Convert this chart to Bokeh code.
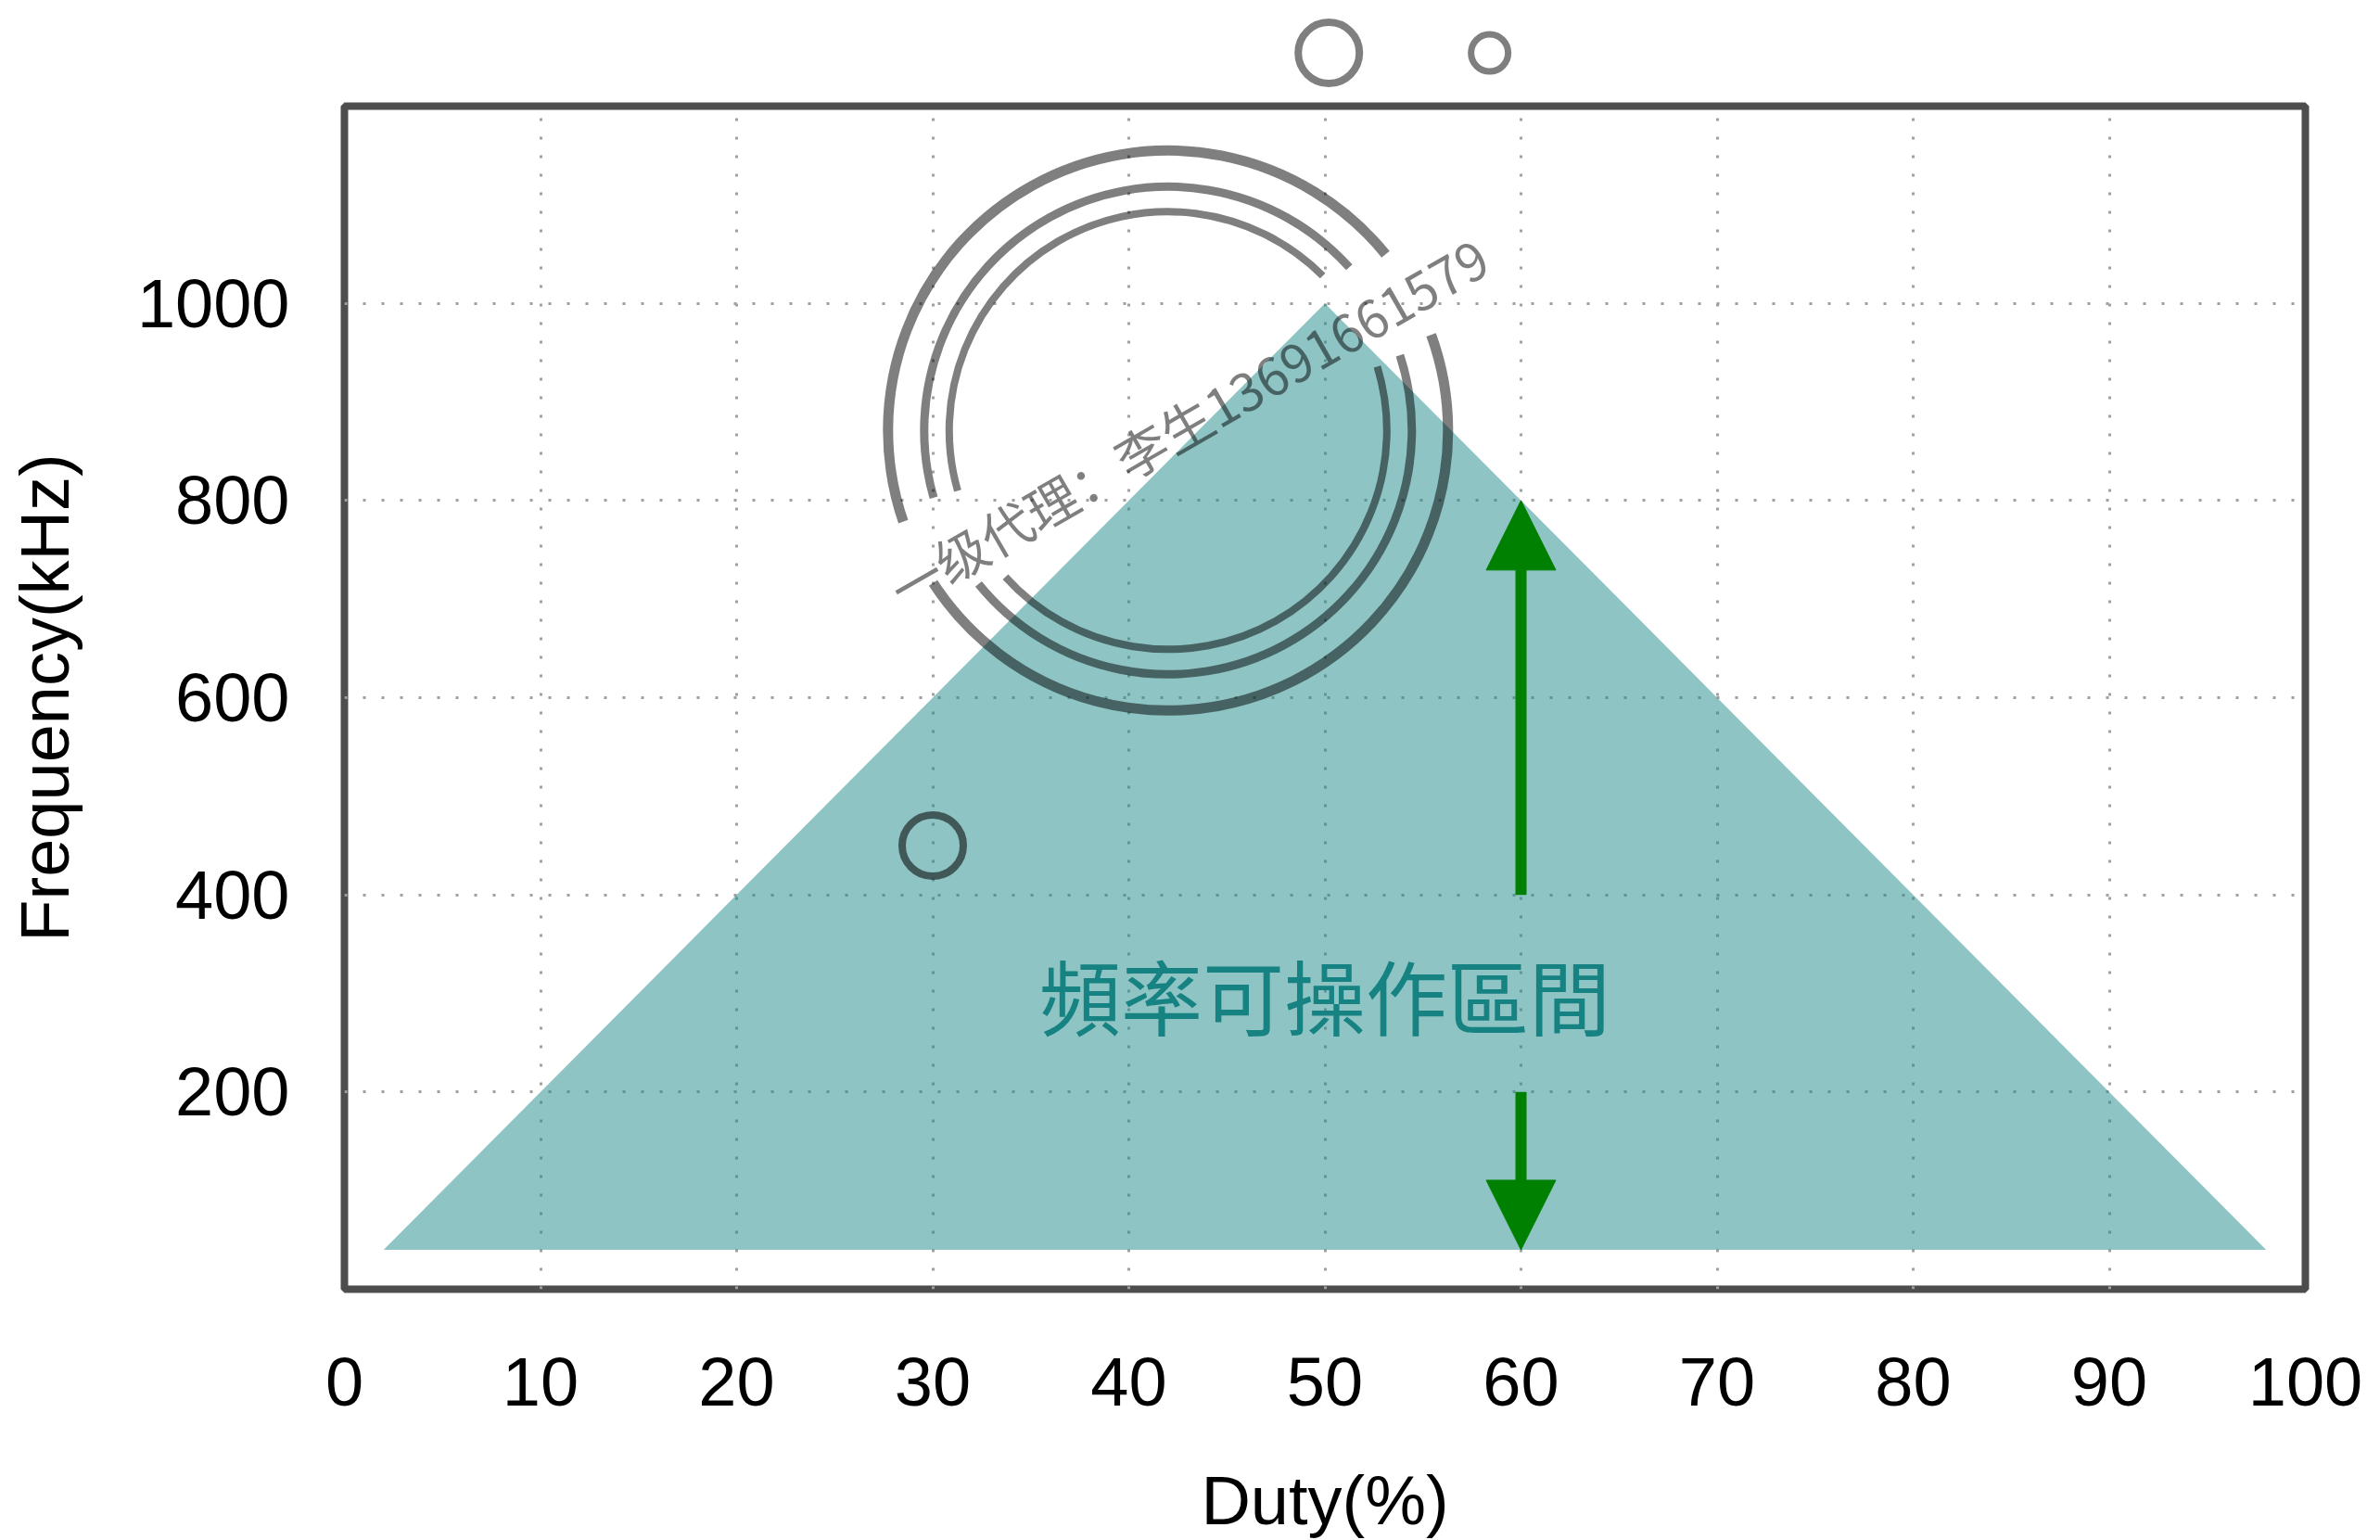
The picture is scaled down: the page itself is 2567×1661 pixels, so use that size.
import numpy as np
from bokeh.plotting import figure
from bokeh.layouts import column
from bokeh.models import Range1d, FixedTicker, Arrow, NormalHead
from bokeh.embed import file_html
from bokeh.resources import INLINE
from bokeh.core.properties import value

# ---------------- chart data ----------------
region_duty = [2, 50, 98]          # Duty(%) of the operating-region corners
region_freq = [40, 1000, 40]       # Frequency(kHz) of the operating-region corners
x_ticks = [0, 10, 20, 30, 40, 50, 60, 70, 80, 90, 100]
y_ticks = [200, 400, 600, 800, 1000]
x_label = "Duty(%)"
y_label = "Frequency(kHz)"
region_label = "頻率可操作區間"
region_label_duty = [50]
region_label_freq = [300]
arrow_duty = 60
arrow_up_freq = [400, 800]         # start, end (head at end)
arrow_down_freq = [200, 40]

# ---------------- watermark (as seen on the picture) ----------------
wm_text = ["一级代理：李生13691661579"]
wm_text_duty = [43]
wm_text_freq = [880]
ring_duty = 42
ring_freq = 871
ring_radius_px = [302, 263, 236]
ring_width_px = [11, 9, 8]
ring_arcs_deg = [[(39, 199), (213, 380)],
                 [(42, 196), (219, 378)],
                 [(45, 196), (222, 377)]]
dot_duty = [30]
dot_freq = [450]
top_dot_duty = [50.2, 58.4]
top_dot_freq = [1254, 1254]
top_dot_size_px = [66, 40]
top_dot_width_px = [8, 7]

# ---------------- layout ----------------
X_MIN, X_MAX = 0, 100
Y_MIN, Y_MAX = 0, 1200
FRAME_W, FRAME_H = 2115, 1276
BORDER_L, BORDER_R = 371, 72
STRIP_H, GAP_TOP = 110, 4          # strip above the chart that holds the two small rings
PX_Y = FRAME_H / (Y_MAX - Y_MIN)

TEAL = "#1f8a8a"
GREEN = "#008000"
FONT = "Liberation Sans"

x_range = Range1d(X_MIN, X_MAX)

# ---- strip above the chart (continues the kHz scale upward) ----
top = figure(
    frame_width=FRAME_W, frame_height=STRIP_H,
    x_range=x_range,
    y_range=Range1d(Y_MAX + GAP_TOP / PX_Y, Y_MAX + (GAP_TOP + STRIP_H) / PX_Y),
    min_border_left=BORDER_L, min_border_right=BORDER_R, min_border_top=0, min_border_bottom=0,
    x_axis_type=None, y_axis_type=None,
    output_backend="svg", toolbar_location=None,
    background_fill_color="white", border_fill_color="white",
)
top.outline_line_color = None
top.grid.visible = False
top.scatter(top_dot_duty, top_dot_freq, marker="circle", size=top_dot_size_px,
            fill_color=None, line_color="#7f7f7f", line_width=top_dot_width_px)

# ---- main chart ----
p = figure(
    frame_width=FRAME_W, frame_height=FRAME_H,
    x_range=x_range, y_range=Range1d(Y_MIN, Y_MAX),
    min_border_left=BORDER_L, min_border_right=BORDER_R, min_border_top=GAP_TOP,
    min_border_bottom=262,
    output_backend="svg", toolbar_location=None,
    background_fill_color="white", border_fill_color="white",
)

p.outline_line_color = "#4d4d4d"
p.outline_line_width = 8

for ax in (p.xaxis, p.yaxis):
    ax.axis_line_color = None
    ax.major_tick_line_color = None
    ax.minor_tick_line_color = None
    ax.major_label_text_font = FONT
    ax.major_label_text_font_size = "74px"
    ax.major_label_text_color = "black"
    ax.axis_label_text_font = FONT
    ax.axis_label_text_font_size = "74px"
    ax.axis_label_text_font_style = "normal"
    ax.axis_label_text_color = "black"

p.xaxis.ticker = FixedTicker(ticks=x_ticks)
p.yaxis.ticker = FixedTicker(ticks=y_ticks)
p.xaxis.axis_label = x_label
p.yaxis.axis_label = y_label
p.xaxis.major_label_standoff = 68
p.yaxis.major_label_standoff = 53
p.xaxis.axis_label_standoff = 58
p.yaxis.axis_label_standoff = 55

for g in (p.xgrid, p.ygrid):
    g.grid_line_color = "#a0a0a0"
    g.grid_line_width = 3
    g.grid_line_dash = "3 17"
p.xgrid.ticker = FixedTicker(ticks=x_ticks)
p.ygrid.ticker = FixedTicker(ticks=y_ticks)

# operating region
p.patch(region_duty, region_freq, fill_color=TEAL, fill_alpha=0.5, line_color=None)

# watermark rings
for r, w, arcs in zip(ring_radius_px, ring_width_px, ring_arcs_deg):
    for a0, a1 in arcs:
        p.arc(x=[ring_duty], y=[ring_freq], radius=r, radius_units="screen",
              start_angle=np.deg2rad(a0), end_angle=np.deg2rad(a1),
              line_color="black", line_alpha=0.5, line_width=w)

p.scatter(dot_duty, dot_freq, marker="circle", size=66, fill_color=None,
          line_color="black", line_alpha=0.55, line_width=8)

p.text(x=wm_text_duty, y=wm_text_freq, text=wm_text, angle=30, angle_units="deg",
       text_font=value("Noto Sans CJK SC"), text_font_size=value("56px"),
       text_color="black", text_alpha=0.5, text_align="center", text_baseline="middle")

# region label
p.text(x=region_label_duty, y=region_label_freq, text=[region_label],
       text_font=value("Noto Sans CJK TC"), text_font_size=value("88px"),
       text_color="#168282", text_align="center", text_baseline="middle")

# arrows
p.add_layout(Arrow(end=NormalHead(size=75, fill_color=GREEN, line_color=GREEN, line_width=1),
                   x_start=arrow_duty, y_start=arrow_up_freq[0],
                   x_end=arrow_duty, y_end=arrow_up_freq[1],
                   line_color=GREEN, line_width=12, line_cap="butt"))
p.add_layout(Arrow(end=NormalHead(size=75, fill_color=GREEN, line_color=GREEN, line_width=1),
                   x_start=arrow_duty, y_start=arrow_down_freq[0],
                   x_end=arrow_duty, y_end=arrow_down_freq[1],
                   line_color=GREEN, line_width=12, line_cap="butt"))

layout = column(top, p, spacing=0)
open("out.html", "w").write(file_html(layout, INLINE))
